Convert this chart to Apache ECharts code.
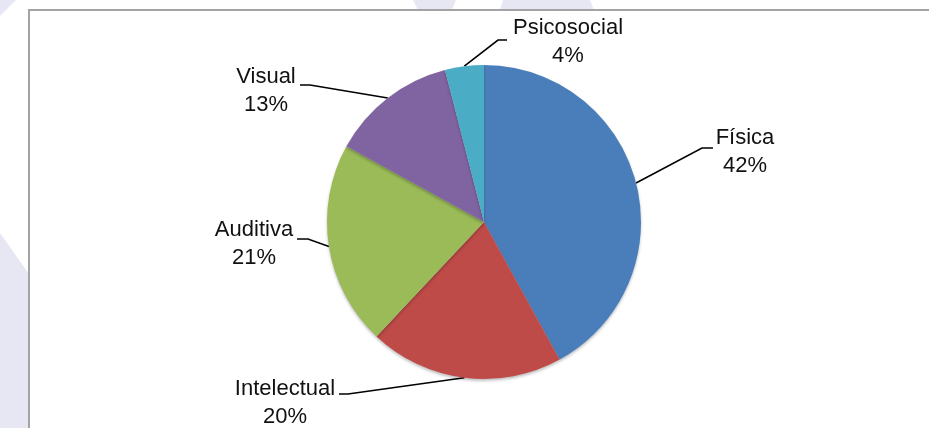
<!DOCTYPE html>
<html>
<head>
<meta charset="utf-8">
<script src="https://cdn.jsdelivr.net/npm/echarts@6/dist/echarts.min.js"></script>
<style>
html,body{margin:0;padding:0;background:#fff;}
#chart{width:929px;height:428px;}
</style>
</head>
<body>
<div id="chart"></div>
<script>
// ---- data ----
const categories = ['Física', 'Intelectual', 'Auditiva', 'Visual', 'Psicosocial'];
const values = [42, 20, 21, 13, 4];
const colors = ['#4A7EBB', '#BE4B48', '#9BBB59', '#8064A2', '#4BACC6'];

// ---- label layout (positions only) ----
// cx: text centre x, top: top of the two-line block, ly: leader line y, ex: elbow x, tx: end x
const labelBoxes = [
  { cx: 745, top: 124, ly: 148, ex: 702, tx: 713 },
  { cx: 285, top: 375, ly: 394, ex: 348, tx: 339 },
  { cx: 254, top: 216, ly: 239, ex: 308, tx: 297 },
  { cx: 266, top: 63,  ly: 85,  ex: 310, tx: 300 },
  { cx: 568, top: 14,  ly: 40,  ex: 498, tx: 507 }
];

const chart = echarts.init(document.getElementById('chart'), null, { renderer: 'canvas' });

const lav = '#E7E7F3';
const option = {
  animation: false,
  backgroundColor: '#ffffff',
  graphic: [
    { type: 'polygon', z: -10, shape: { points: [[0, 233], [29, 274], [29, 428], [0, 428]] }, style: { fill: lav } },
    { type: 'polygon', z: -10, shape: { points: [[0, 0], [16, 0], [0, 16]] }, style: { fill: lav } },
    { type: 'polygon', z: -10, shape: { points: [[413, 0], [456, 0], [452, 10], [418, 10]] }, style: { fill: lav } },
    { type: 'polygon', z: -10, shape: { points: [[503, 0], [590, 0], [594, 10], [500, 10]] }, style: { fill: lav } },
    { type: 'rect', z: -5, shape: { x: 29, y: 10, width: 1000, height: 1000 },
      style: { fill: '#ffffff', stroke: '#A3A3A3', lineWidth: 2 } }
  ],
  series: [{
    type: 'pie',
    center: [484, 222],
    radius: 157,
    startAngle: 90,
    clockwise: true,
    avoidLabelOverlap: false,
    color: colors,
    itemStyle: {
      borderWidth: 0,
      shadowColor: 'rgba(0,0,0,0.25)',
      shadowBlur: 3,
      shadowOffsetY: 2
    },
    label: {
      show: true,
      position: 'outside',
      formatter: '{b}\n{d}%',
      fontFamily: 'Liberation Sans, Arial, sans-serif',
      fontSize: 22,
      lineHeight: 28,
      color: '#111111',
      align: 'center'
    },
    labelLine: {
      show: true,
      length: 20,
      length2: 10,
      lineStyle: { color: '#000000', width: 1.6 }
    },
    labelLayout: function (params) {
      const b = labelBoxes[params.dataIndex];
      const a = params.labelLinePoints ? params.labelLinePoints[0] : [b.ex, b.ly];
      return {
        x: b.cx,
        y: b.top,
        align: 'center',
        verticalAlign: 'top',
        labelLinePoints: [a, [b.ex, b.ly], [b.tx, b.ly]]
      };
    },
    emphasis: { disabled: true },
    data: categories.map(function (c, i) { return { name: c, value: values[i] }; })
  }]
};
chart.setOption(option);
</script>
</body>
</html>
